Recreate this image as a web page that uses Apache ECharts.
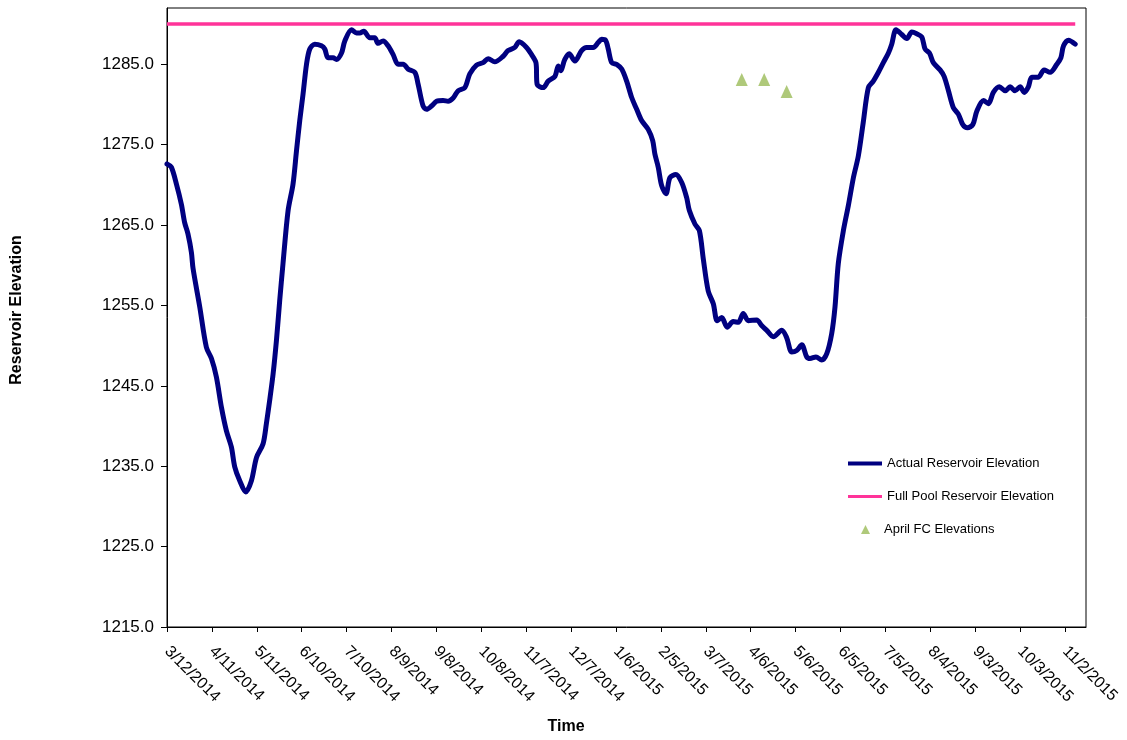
<!DOCTYPE html>
<html>
<head>
<meta charset="utf-8">
<script src="https://cdn.jsdelivr.net/npm/echarts@6/dist/echarts.min.js"></script>
<style>
html,body{margin:0;padding:0;background:#fff;}
#chart{width:1127px;height:740px;}
</style>
</head>
<body>
<div id="chart"></div>
<script>
// ---- data ----
const startDate = '2014-03-12';
const xTickLabels = ['3/12/2014','4/11/2014','5/11/2014','6/10/2014','7/10/2014','8/9/2014','9/8/2014','10/8/2014','11/7/2014','12/7/2014','1/6/2015','2/5/2015','3/7/2015','4/6/2015','5/6/2015','6/5/2015','7/5/2015','8/4/2015','9/3/2015','10/3/2015','11/2/2015'];
const yTickValues = [1215,1225,1235,1245,1255,1265,1275,1285];

// Actual reservoir elevation: days since start date, elevation (ft)
const elevDays = [0,2.9,6.3,9.6,11.8,14.0,16.3,17.4,21.9,26.3,29.7,33.0,36.4,39.7,43.0,45.3,48.6,52.6,56.4,59.8,64.2,66.4,68.6,70.9,73.1,75.3,77.5,80.9,84.2,86.5,88.7,90.9,93.2,95.4,98.7,103.2,105.4,107.6,111.0,113.2,116.6,118.8,123.3,126.6,128.8,131.5,135.5,138.8,141.0,144.4,147.7,151.1,154.4,157.8,161.1,165.6,167.8,171.1,173.4,176.7,180.1,184.5,187.8,191.2,194.5,199.0,202.3,206.8,211.2,214.6,219.0,224.6,227.9,232.4,235.3,240.2,243.6,246.5,247.3,251.3,254.7,259.2,261.4,263.0,265.8,268.7,272.5,277.0,280.3,284.8,288.1,290.4,293.0,294.8,297.1,300.4,303.8,307.1,310.4,313.8,317.1,321.5,324.5,326.0,328.2,330.5,333.4,336.0,340.0,343.9,347.2,349.0,352.8,355.7,358.3,361.6,365.0,367.6,370.6,374.3,378.3,381.7,385.0,388.4,394.0,397.3,400.7,405.1,410.7,414.0,417.4,420.7,424.1,427.4,429.6,433.6,437.4,440.8,444.1,446.3,448.5,451.9,455.2,458.6,461.9,465.2,468.6,471.9,475.3,478.6,482.0,484.2,487.1,490.9,494.3,497.6,500.9,504.3,506.5,509.4,512.0,516.5,519.2,522.1,525.4,528.7,531.7,534.8,538.4,541.1,545.5,548.8,552.1,556.1,560.0,563.3,566.6,570.0,572.7,575.5,577.8,582.2,586.0,590.0,594.5,597.2,599.0,602.3,606.8];
const elevValues = [1272.6,1272.2,1270.1,1267.6,1265.3,1263.9,1261.6,1259.6,1254.8,1249.8,1248.4,1246.1,1242.3,1239.4,1237.4,1234.9,1233.2,1231.8,1233.2,1236.1,1237.8,1240.3,1243.2,1246.5,1250.6,1255.6,1260.2,1266.8,1270.1,1274.2,1278.0,1281.3,1285.0,1286.9,1287.5,1287.3,1286.9,1285.8,1285.8,1285.6,1286.4,1287.9,1289.3,1288.9,1288.9,1289.1,1288.3,1288.3,1287.6,1287.9,1287.3,1286.2,1285.0,1285.0,1284.4,1284.0,1282.5,1279.8,1279.4,1279.8,1280.4,1280.5,1280.4,1280.8,1281.7,1282.1,1283.8,1284.9,1285.2,1285.7,1285.3,1286.0,1286.7,1287.1,1287.8,1287.1,1286.2,1285.2,1282.5,1282.1,1282.9,1283.5,1284.8,1284.2,1285.6,1286.3,1285.4,1286.7,1287.1,1287.1,1287.7,1288.1,1288.0,1286.9,1285.2,1285.0,1284.4,1282.9,1280.9,1279.4,1278.0,1276.9,1275.5,1273.8,1272.2,1269.9,1268.9,1270.9,1271.3,1270.3,1268.4,1266.8,1265.1,1264.3,1260.8,1256.8,1255.2,1253.1,1253.5,1252.3,1253.0,1252.9,1254.0,1253.1,1253.2,1252.5,1251.9,1251.1,1251.9,1251.0,1249.2,1249.4,1250.1,1248.6,1248.4,1248.6,1248.2,1249.0,1251.5,1254.8,1260.2,1264.3,1267.4,1270.9,1273.6,1277.8,1282.1,1282.9,1284.0,1285.2,1286.4,1287.5,1289.3,1288.7,1288.2,1289.0,1288.8,1288.4,1286.9,1286.4,1285.2,1284.3,1283.5,1281.7,1279.6,1278.8,1277.5,1277.1,1277.5,1279.2,1280.5,1280.1,1281.5,1282.2,1281.7,1282.2,1281.7,1282.2,1281.5,1282.2,1283.4,1283.4,1284.3,1284.0,1285.0,1285.8,1287.3,1288.0,1287.5];

// Full pool reservoir elevation
const fullPoolDays = [0, 606.8];
const fullPoolValues = [1290, 1290];

// April forecast elevations
const fcDays = [384, 399, 414];
const fcValues = [1283.1, 1283.1, 1281.6];

// ---- chart ----
const zip = (a, b) => a.map((v, i) => [v, b[i]]);
const xTickDays = xTickLabels.map((_, i) => i * 30);
const FONT = 'Liberation Sans, Arial, sans-serif';
const legendText = {fontSize: 13, fontFamily: FONT, color: '#000'};

const chart = echarts.init(document.getElementById('chart'), null, {renderer: 'canvas'});
chart.setOption({
  backgroundColor: '#fff',
  animation: false,
  grid: {left: 167, right: 41, top: 8, bottom: 113, show: true, borderColor: '#000', borderWidth: 1, containLabel: false},
  xAxis: {
    type: 'value', min: 0, max: 614, interval: 30,
    axisLine: {show: true, onZero: false, lineStyle: {color: '#000', width: 1}},
    axisTick: {show: true, length: 5, lineStyle: {color: '#000'}, customValues: xTickDays},
    splitLine: {show: false},
    axisLabel: {
      customValues: xTickDays,
      rotate: -45, margin: 22, color: '#000', fontSize: 16, fontFamily: FONT,
      formatter: v => { const i = Math.round(v / 30); return (Math.abs(v - i * 30) < 1e-6 && xTickLabels[i]) ? xTickLabels[i] : ''; }
    }
  },
  yAxis: {
    type: 'value', min: 1215, max: 1292, interval: 10,
    axisLine: {show: true, lineStyle: {color: '#000', width: 1}},
    axisTick: {show: true, length: 6, lineStyle: {color: '#000'}, customValues: yTickValues},
    splitLine: {show: false},
    axisLabel: {customValues: yTickValues, margin: 13, color: '#000', fontSize: 17, fontFamily: FONT, formatter: v => v.toFixed(1)}
  },
  legend: [
    {data: [{name: 'Actual Reservoir Elevation', icon: 'rect'}], left: 848, top: 457, padding: 0,
     itemWidth: 34, itemHeight: 4, itemGap: 0, textStyle: legendText},
    {data: [{name: 'Full Pool Reservoir Elevation', icon: 'rect'}], left: 848, top: 490, padding: 0,
     itemWidth: 34, itemHeight: 3, textStyle: legendText},
    {data: [{name: 'April FC Elevations', icon: 'triangle'}], left: 861, top: 523, padding: 0,
     itemWidth: 9, itemHeight: 9, textStyle: Object.assign({padding: [0, 0, 0, 9]}, legendText)}
  ],
  graphic: [
    {type: 'text', x: 17, y: 310, rotation: Math.PI / 2,
     style: {text: 'Reservoir Elevation', font: 'bold 16px ' + FONT, fill: '#000', align: 'center', verticalAlign: 'middle'}},
    {type: 'text', x: 566, y: 727,
     style: {text: 'Time', font: 'bold 16px ' + FONT, fill: '#000', align: 'center', verticalAlign: 'middle'}}
  ],
  series: [
    {name: 'Full Pool Reservoir Elevation', type: 'line', data: zip(fullPoolDays, fullPoolValues),
     symbol: 'none', lineStyle: {color: '#FF3399', width: 3.5}, itemStyle: {color: '#FF3399'}, z: 2},
    {name: 'Actual Reservoir Elevation', type: 'line', data: zip(elevDays, elevValues),
     symbol: 'none', smooth: 0.3, lineStyle: {color: '#000080', width: 5, join: 'round', cap: 'round'}, itemStyle: {color: '#000080'}, z: 3},
    {name: 'April FC Elevations', type: 'scatter', data: zip(fcDays, fcValues),
     symbol: 'triangle', symbolSize: [12, 13], itemStyle: {color: '#9BBB59'}, z: 4}
  ]
});
</script>
</body>
</html>
